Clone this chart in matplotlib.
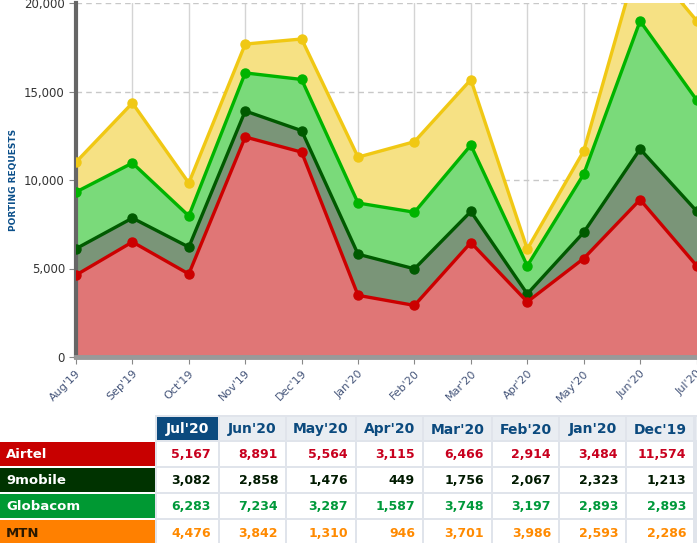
import matplotlib.pyplot as plt
from matplotlib.patches import Rectangle
from matplotlib.ticker import FuncFormatter
import numpy as np

months = ["Aug'19", "Sep'19", "Oct'19", "Nov'19", "Dec'19", "Jan'20",
          "Feb'20", "Mar'20", "Apr'20", "May'20", "Jun'20", "Jul'20"]
airtel = [4630, 6500, 4690, 12430, 11574, 3484, 2914, 6466, 3115, 5564, 8891, 5167]
nine_mobile = [1490, 1350, 1520, 1470, 1213, 2323, 2067, 1756, 449, 1476, 2858, 3082]
globacom = [3200, 3110, 1760, 2150, 2893, 2893, 3197, 3748, 1587, 3287, 7234, 6283]
mtn = [1690, 3390, 1860, 1630, 2286, 2593, 3986, 3701, 946, 1310, 3842, 4476]

operators = ["Airtel", "9mobile", "Globacom", "MTN"]
series = [airtel, nine_mobile, globacom, mtn]
line_colors = ["#cc0000", "#005a00", "#00b400", "#f0c814"]
fill_colors = ["#e07676", "#7a9578", "#7ada7a", "#f6e184"]
label_bg = ["#c80000", "#003300", "#009933", "#ff8000"]
label_fg = ["white", "white", "white", "#2a1800"]
value_colors = ["#c8001e", "#001a00", "#00993a", "#ff8a00"]

W, H = 697, 543
fig = plt.figure(figsize=(W / 100, H / 100), dpi=100)

# tabla (dibujada en pixeles)
tab = fig.add_axes([0, 0, 1, 1])
tab.set_xlim(0, W)
tab.set_ylim(H, 0)
tab.axis("off")

col_edges = [156, 219, 286, 356, 423, 492, 559, 626, 694]
header_y = (417, 440)
row_y = [(442, 466), (468, 492), (494, 518), (520, 545)]
table_months = months[::-1][:8]

tab.add_patch(Rectangle((155, 415), W - 155, H - 415, color="#e0e4eb", lw=0))
for i, m in enumerate(table_months):
    x0, x1 = col_edges[i] + 1, col_edges[i + 1] - 1
    bg = "#0b4a7e" if i == 0 else "#e9edf2"
    fg = "white" if i == 0 else "#0b4a7e"
    tab.add_patch(Rectangle((x0, header_y[0]), x1 - x0, header_y[1] - header_y[0],
                            color=bg, lw=0))
    tab.text((x0 + x1) / 2, (header_y[0] + header_y[1]) / 2 + 1, m,
             ha="center", va="center", fontsize=10, fontweight="bold", color=fg)
    for r, (y0, y1) in enumerate(row_y):
        tab.add_patch(Rectangle((x0, y0), x1 - x0, y1 - y0, color="white", lw=0))
        val = series[r][::-1][i]
        tab.text(x1 - 7, (y0 + y1) / 2 + 1, f"{val:,}", ha="right", va="center",
                 fontsize=9, fontweight="bold", color=value_colors[r])
tab.add_patch(Rectangle((696, header_y[0]), 2, header_y[1] - header_y[0],
                        color="#e9edf2", lw=0))

for r, (y0, y1) in enumerate(row_y):
    tab.add_patch(Rectangle((0, y0), 155, y1 - y0, color=label_bg[r], lw=0))
    tab.text(6, (y0 + y1) / 2 + 1, operators[r], ha="left", va="center",
             fontsize=9.5, fontweight="bold", color=label_fg[r])

# grafico de areas apiladas
ax = fig.add_axes([76 / W, 1 - 357 / H, (696.5 - 76) / W, (357 - 3) / H])
x = np.arange(len(months))
base = np.zeros(len(months))
tops = []
for vals, fc in zip(series, fill_colors):
    top = base + np.array(vals)
    ax.fill_between(x, base, top, color=fc, lw=0, zorder=1)
    tops.append(top)
    base = top

for k in range(3, -1, -1):
    ax.plot(x, tops[k], color=line_colors[k], lw=2.4, marker="o", ms=6.5,
            zorder=5 + (3 - k))

ax.set_xlim(0, 11)
ax.set_ylim(0, 20000)
ax.set_xticks(x)
ax.set_xticklabels(months, rotation=45, ha="right", rotation_mode="anchor")
ax.set_yticks([0, 5000, 10000, 15000, 20000])
ax.yaxis.set_major_formatter(FuncFormatter(lambda v, p: f"{int(v):,}"))
ax.xaxis.grid(True, color="#d4d4d4", lw=1, ls="-", zorder=0)
ax.yaxis.grid(True, color="#c8c8c8", lw=1, ls=(0, (4, 3)), zorder=0)
ax.set_axisbelow(True)
ax.spines["top"].set_visible(False)
ax.spines["right"].set_visible(False)
ax.spines["left"].set_color("#666666")
ax.spines["left"].set_linewidth(3)
ax.spines["bottom"].set_color("#999999")
ax.spines["bottom"].set_linewidth(3.5)
ax.tick_params(axis="y", length=5, color="#888888", labelsize=8.5,
               labelcolor="#333333", pad=3)
ax.tick_params(axis="x", length=5, color="#888888", labelsize=8,
               labelcolor="#45557a", pad=3)

fig.text(14 / W, 1 - 180 / H, "PORTING REQUESTS", rotation=90, ha="center",
         va="center", fontsize=6.5, fontweight="bold", color="#0b4f8a")

plt.savefig("out.png", dpi=100)
